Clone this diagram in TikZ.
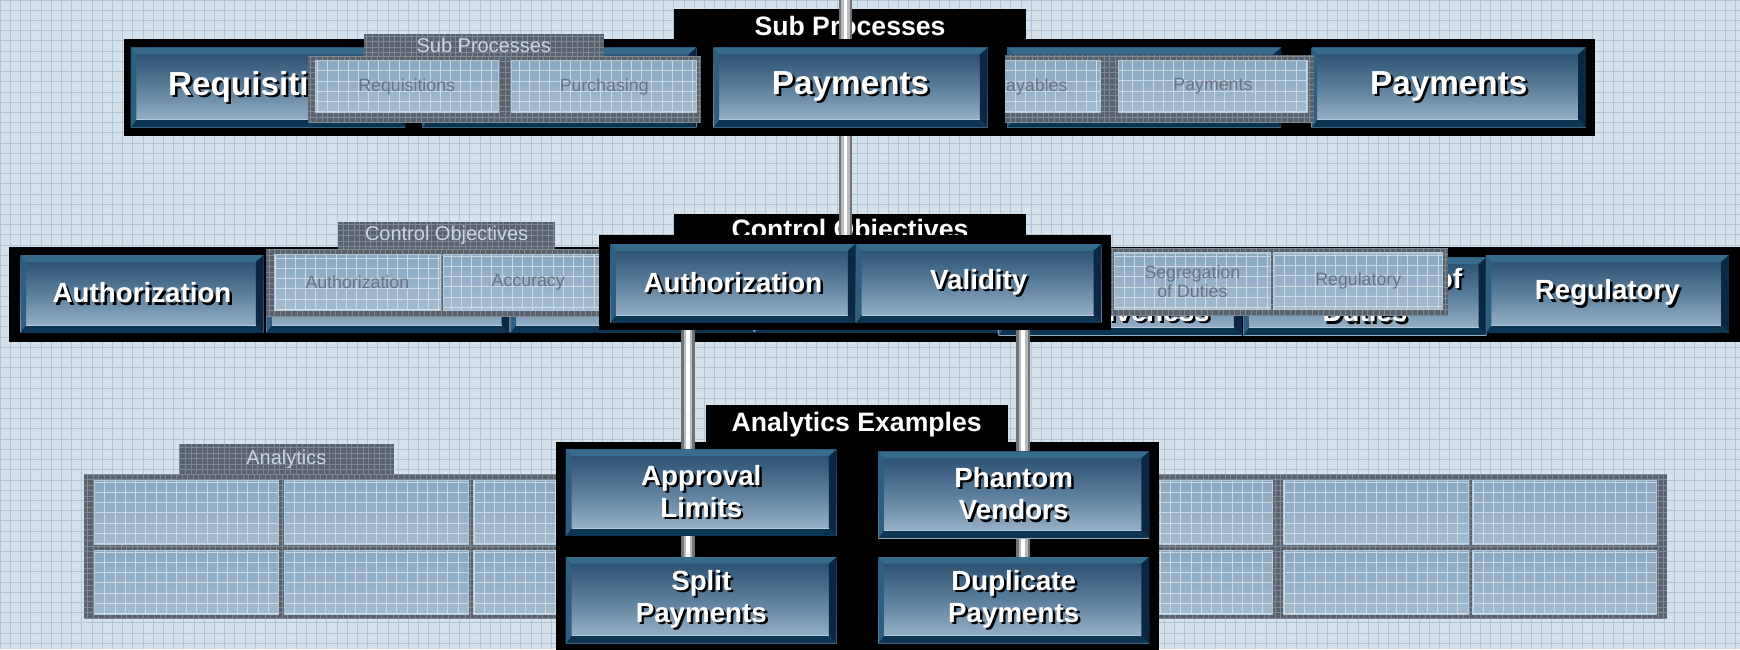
\documentclass[tikz,border=0pt]{standalone}
\usepackage{fontspec}
\setmainfont{Liberation Sans}
\usetikzlibrary{positioning,calc}

\definecolor{bgblue}{HTML}{D5E1EB}
\definecolor{gridblue}{HTML}{AFC6DA}
\definecolor{btntop}{HTML}{264A6C}
\definecolor{btnmid}{HTML}{5C7F9C}
\definecolor{btnbot}{HTML}{A2BBCF}
\definecolor{bvtop}{HTML}{366B8C}
\definecolor{bvleft}{HTML}{2F5F80}
\definecolor{bvbot}{HTML}{0C3553}
\definecolor{bvright}{HTML}{0A2843}
\definecolor{bvhl}{HTML}{B4CADC}
\definecolor{gpan}{HTML}{59636E}
\definecolor{gline}{HTML}{7E8893}
\definecolor{gbtop}{HTML}{8AA8C0}
\definecolor{gbbot}{HTML}{A3BBCE}
\definecolor{gedge}{HTML}{B3C8D9}
\definecolor{gtext}{HTML}{67737E}
\definecolor{gtabtext}{HTML}{C9D5E0}
\definecolor{pipedark}{HTML}{6F7377}
\definecolor{pipelite}{HTML}{B8BBBE}

% white button text with a black drop shadow
\newcommand\shd[1]{\leavevmode\rlap{\kern2.2pt\raisebox{-2.2pt}{\color{black}#1}}#1}

\begin{document}
\begin{tikzpicture}[x=1pt, y=-1pt,
    blk/.style={fill=black, inner sep=0pt},
    tabbox/.style={blk, text=white, font=\bfseries\fontsize{24}{26}\selectfont},
    bevelled/.style={path picture={
        \coordinate (bnw) at (path picture bounding box.north west);
        \coordinate (bne) at (path picture bounding box.north east);
        \coordinate (bsw) at (path picture bounding box.south west);
        \coordinate (bse) at (path picture bounding box.south east);
        \fill[bvtop] (bnw) -- (bne) -- ([shift={(-7pt,-6pt)}]bne) -- ([shift={(5pt,-6pt)}]bnw) -- cycle;
        \fill[bvleft] (bnw) -- ([shift={(5pt,-6pt)}]bnw) -- ([shift={(5pt,7pt)}]bsw) -- (bsw) -- cycle;
        \fill[bvbot] (bsw) -- ([shift={(5pt,7pt)}]bsw) -- ([shift={(-7pt,7pt)}]bse) -- (bse) -- cycle;
        \fill[bvright] (bse) -- ([shift={(-7pt,7pt)}]bse) -- ([shift={(-7pt,-6pt)}]bne) -- (bne) -- cycle;
        \draw[bvhl, line width=1pt] ([shift={(5pt,7pt)}]bsw) -- ([shift={(-7pt,7pt)}]bse);
    }},
    btn/.style n args={2}{minimum width=#1, minimum height=#2, inner sep=0pt, align=center,
        text=white, top color=btntop, bottom color=btnbot, middle color=btnmid, bevelled},
    topbtn/.style={btn={247pt}{72pt}, font=\bfseries\fontsize{30}{32}\selectfont},
    midbtn/.style={btn={219pt}{70pt}, font=\bfseries\fontsize{25}{30}\selectfont},
    anbtn/.style={btn={244pt}{78pt}, font=\bfseries\fontsize{25}{29}\selectfont},
    gridfill/.style 2 args={path picture={
        \draw[#1, line width=.5pt, step=#2] (path picture bounding box.south west) grid (path picture bounding box.north east);}},
    gpanel/.style={fill=gpan, inner sep=0pt, gridfill={gline}{5pt}},
    gtab/.style={gpanel, text=gtabtext, font=\fontsize{18}{19}\selectfont},
    gbtn/.style n args={2}{minimum width=#1, minimum height=#2, inner sep=0pt, align=center,
        text=gtext, font=\fontsize{16}{17}\selectfont, top color=gbtop, bottom color=gbbot,
        draw=gedge, line width=1pt, gridfill={white!45!gbbot}{9.2pt}},
    pipe/.style={line width=12pt, draw=pipedark, postaction={draw=pipelite, line width=8pt},
        postaction={draw=white, line width=3pt}}
]
    \useasboundingbox (0,0) rectangle (1568,585);
    \clip (0,0) rectangle (1568,585);
    \fill[bgblue] (0,0) rectangle (1568,585);
    \draw[gridblue, line width=.6pt, step=9.2pt] (0,0) grid (1568,585);

    % analytics ghost, behind everything
    \node[gtab, minimum width=194pt, minimum height=27pt] (gantab) at (258,413.5) {Analytics};
    \node[gpanel, minimum width=1426pt, minimum height=130pt] (ganpanel) at (789,492) {};
    \foreach \x [count=\i] in {85,256,427,598,769,981,1157,1327} {
        \node[gbtn={166pt}{58pt}] (gana\i) at (\x+83,462) {};
        \node[gbtn={166pt}{58pt}] (ganb\i) at (\x+83,525) {};
    }

    % title tabs
    \node[tabbox, minimum width=318pt, minimum height=30pt] (subtab) at (766,23) {Sub Processes};
    \node[tabbox, minimum width=318pt, minimum height=32pt] (ctltab) at (766,209) {Control Objectives};

    \coordinate (ptop) at (762,-10);
    \coordinate (pjoin) at (762,215);
    \draw[pipe] (ptop) -- (pjoin);

    % sub processes
    \node[blk, minimum width=1325pt, minimum height=88pt] (subbar) at (774.5,79) {};
    \node[topbtn] (sub1) at (241.5,79) {\shd{Requisitions}};
    \node[topbtn] (sub2) at (504,79) {};
    \node[topbtn] (sub3) at (766.5,79) {\shd{Payments}};
    \node[topbtn] (sub4) at (1031,79) {};
    \node[topbtn] (sub5) at (1305.5,79) {\shd{Payments}};

    \node[gtab, minimum width=216pt, minimum height=20pt] (gsubtab) at (436,41) {Sub Processes};
    \node[gpanel, minimum width=354pt, minimum height=60pt] (gsub) at (455,80.5) {};
    \node[gbtn={165pt}{47pt}] (gsubreq) at (366.5,78) {Requisitions};
    \node[gbtn={167pt}{47pt}] (gsubpur) at (544.5,78) {Purchasing};
    \node[gpanel, minimum width=278pt, minimum height=61pt] (gpay) at (1045,80.5) {};
    \begin{scope}
        \clip (gpay.north west) rectangle (gpay.south east);
        \node[gbtn={126pt}{47pt}] (gpaypbl) at (929,78) {Payables};
    \end{scope}
    \node[gbtn={170pt}{47pt}] (gpaypmt) at (1093,78) {Payments};

    % control objectives
    \node[blk, minimum width=1567pt, minimum height=85pt] (ctlbar) at (791.5,265.5) {};
    \node[midbtn] (ctl1) at (128,265) {\shd{Authorization}};
    \node[midbtn] (ctl2) at (349.5,265) {};
    \node[midbtn] (ctl3) at (569.5,265) {};
    \node[midbtn] (ctl4) at (789.5,265) {};
    \node[midbtn] (ctl5) at (1009.5,267) {\vphantom{Ag}\\\shd{Effectiveness}};
    \node[midbtn] (ctl6) at (1230,267) {\shd{Segregation of}\\\shd{Duties}};
    \node[midbtn] (ctl7) at (1448.5,265) {\shd{Regulatory}};

    \node[gtab, minimum width=195pt, minimum height=25pt] (gctltab) at (402.5,212.5) {Control Objectives};
    \node[gpanel, minimum width=305pt, minimum height=60pt] (gctl) at (392.5,255) {};
    \node[gbtn={150pt}{51pt}] (gctlaut) at (322,254.5) {Authorization};
    \node[gbtn={152pt}{51pt}] (gctlacc) at (476,254.5) {Accuracy};
    \node[gpanel, minimum width=305pt, minimum height=60pt] (gseg) at (1152.5,254) {};
    \node[gbtn={141pt}{51pt}] (gsegsod) at (1074.5,253.5) {Segregation\\of Duties};
    \node[gbtn={152pt}{51pt}] (gsegreg) at (1224,253.5) {Regulatory};

    \node[blk, minimum width=461pt, minimum height=85pt] (midbox) at (770.5,254.5) {};
    \node[btn={221pt}{71pt}, font=\bfseries\fontsize{25}{28}\selectfont] (midaut) at (660.5,255.5) {\shd{Authorization}};
    \node[btn={221pt}{71pt}, font=\bfseries\fontsize{25}{28}\selectfont] (midval) at (882,255.5) {\shd{Validity}};

    % analytics examples
    \node[tabbox, minimum width=272pt, minimum height=35pt] (antab) at (772,382.5) {Analytics Examples};
    \node[blk, minimum width=543pt, minimum height=202pt] (anbox) at (772.5,499) {};

    \coordinate (pl) at (620,0);
    \coordinate (pr) at (922,0);
    \coordinate (plb) at (620,505);
    \coordinate (prb) at (922,505);
    \draw[pipe] (pl |- midbox.south) -- (plb);
    \draw[pipe] (pr |- midbox.south) -- (prb);

    \node[anbtn] (appr) at (632,444) {\shd{Approval}\\\shd{Limits}};
    \node[anbtn] (phan) at (913.5,446) {\shd{Phantom}\\\shd{Vendors}};
    \node[anbtn] (split) at (632,541) {\shd{Split}\\\shd{Payments}};
    \node[anbtn] (dupl) at (913.5,541) {\shd{Duplicate}\\\shd{Payments}};
\end{tikzpicture}
\end{document}
